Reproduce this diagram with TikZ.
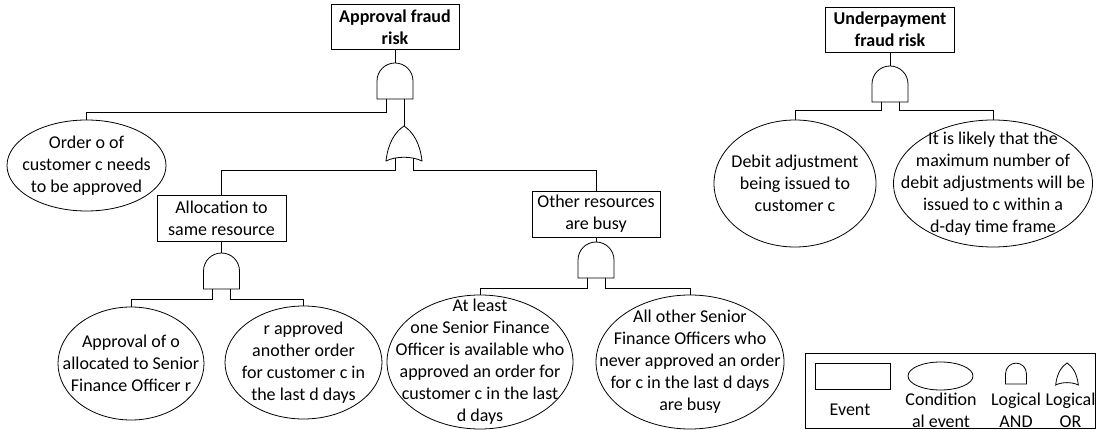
\documentclass[tikz,border=0pt]{standalone}
\usepackage{fontspec}
\setmainfont{Carlito}
\usetikzlibrary{shapes.geometric}
\begin{document}
\begin{tikzpicture}[x=1pt,y=-1pt,line width=0.8pt,
  every node/.style={font=\fontsize{18}{22}\selectfont, align=center, inner sep=0pt},
  event/.style={draw, rectangle},
  topevent/.style={event, font=\fontsize{18}{21.5}\selectfont\bfseries},
  cond/.style={draw, ellipse},
  gate/.style={draw, fill=white},
  andgate/.pic={
    \draw[gate] (-18,0) -- (-18,-18)
      .. controls (-18,-27.94) and (-9.94,-36) .. (0,-36)
      .. controls (9.94,-36) and (18,-27.94) .. (18,-18) -- (18,0) -- cycle;
    \coordinate (-top) at (0,-36);
    \coordinate (-l) at (-9,0);
    \coordinate (-r) at (9,0);
  },
  orgate/.pic={
    \draw[gate] (-18,0) .. controls (-16,-18) and (-9,-29) .. (0,-35)
      .. controls (9,-29) and (16,-18) .. (18,0)
      .. controls (8,-5) and (-8,-5) .. (-18,0) -- cycle;
    \coordinate (-top) at (0,-35);
    \coordinate (-l) at (-9,-3);
    \coordinate (-r) at (9,-3);
  }]
\useasboundingbox (0,0) rectangle (1096,430);

% ---- approval fraud tree ----
\node[topevent, minimum width=128, minimum height=45] (top1) at (395,27.3) {Approval fraud\\risk};
\pic (g1) at (395,99) {andgate};
\pic (g2) at (404,161) {orgate};
\node[cond, minimum width=159, minimum height=91,
  label={center:{Order o of\\customer c needs\\to be approved}}] (order) at (86.5,165.5) {};
\node[event, minimum width=129, minimum height=46] (alloc) at (221.5,218) {Allocation to\\same resource};
\node[event, minimum width=128, minimum height=46] (other) at (596,214) {Other resources\\are busy};
\pic (g3) at (221.5,289) {andgate};
\pic (g4) at (596,278) {andgate};
\node[cond, minimum width=146, minimum height=113,
  label={center:{Approval of o\\allocated to Senior\\Finance Officer r}}] (appr) at (131,363.5) {};
\node[cond, minimum width=157, minimum height=113,
  label={center:{r approved\\another order\\for customer c in\\the last d days}}] (rapp) at (303.5,362.5) {};
\node[cond, minimum width=186, minimum height=134,
  label={center:{At least\\one Senior Finance\\Officer is available who\\approved an order for\\customer c in the last\\d days}}] (atleast) at (480,362) {};
\node[cond, minimum width=188, minimum height=134,
  label={center:{All other Senior\\Finance Officers who\\never approved an order\\for c in the last d days\\are busy}}] (allother) at (690,362) {};

\draw (top1.south) -- (g1-top);
\draw (g1-l) -- ++(0,13) -| (order.north);
\draw (g1-r) -- (g2-top);
\draw (g2-l) -- ++(0,12) -| (alloc.north);
\draw (g2-r) -- ++(0,12) -| (other.north);
\draw (alloc.south) -- (g3-top);
\draw (g3-l) -- ++(0,10) -| (appr.north);
\draw (g3-r) -- ++(0,10) -| (rapp.north);
\draw (other.south) -- (g4-top);
\draw (g4-l) -- ++(0,10) -| (atleast.north);
\draw (g4-r) -- ++(0,10) -| (allother.north);

% ---- underpayment fraud tree ----
\node[topevent, minimum width=129, minimum height=45] (top2) at (890,29.5) {Underpayment\\fraud risk};
\pic (g5) at (890,102) {andgate};
\node[cond, minimum width=162, minimum height=127,
  label={center:{Debit adjustment\\being issued to\\customer c}}] (debit) at (795,183.5) {};
\node[cond, minimum width=199, minimum height=127,
  label={center:{It is likely that the\\maximum number of\\debit adjustments will be\\issued to c within a\\d-day time frame}}] (likely) at (993,183.5) {};
\draw (top2.south) -- (g5-top);
\draw (g5-l) -- ++(0,8) -| (debit.north);
\draw (g5-r) -- ++(0,8) -| (likely.north);

% ---- legend ----
\node[event, minimum width=290, minimum height=75] (legend) at (950,390.5) {};
\node[event, minimum width=75, minimum height=26] (lgevent) at (852.5,376) {};
\node[cond, minimum width=65, minimum height=28] (lgcond) at (940.5,376) {};
\pic[scale=0.58] (lgand) at (1016,384) {andgate};
\pic[scale=0.63] (lgor) at (1067,385) {orgate};
\node (lgeventtxt) at (850,410) {Event};
\node (lgcondtxt) at (941,410) {Condition\\al event};
\node (lgandtxt) at (1016,410) {Logical\\AND};
\node (lgortxt) at (1070.5,410) {Logical\\OR};
\end{tikzpicture}
\end{document}
